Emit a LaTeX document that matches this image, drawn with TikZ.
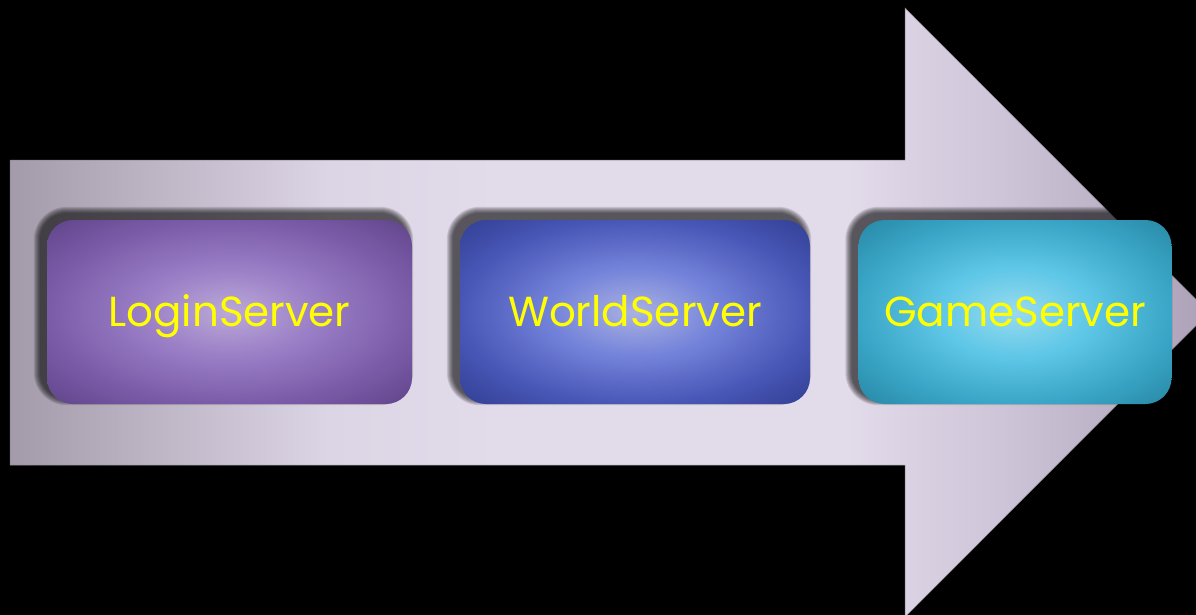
\documentclass[tikz,border=0pt]{standalone}
\usepackage{fontspec}
\newfontfamily\labelfont{Poppins}
\usetikzlibrary{backgrounds,calc}

% arrow body colours
\definecolor{arrowA}{HTML}{A39BAA}
\definecolor{arrowB}{HTML}{DCD5E5}
\definecolor{arrowC}{HTML}{E2DBEA}
\definecolor{arrowD}{HTML}{CEC5D8}
\definecolor{arrowE}{HTML}{ACA1B7}
% box colours: centre, ring, edge, corner
\definecolor{loginA}{HTML}{BBA9D8}
\definecolor{loginB}{HTML}{9A7EC6}
\definecolor{loginC}{HTML}{7A5BA8}
\definecolor{loginD}{HTML}{5E4388}
\definecolor{worldA}{HTML}{AAB1E2}
\definecolor{worldB}{HTML}{7483DA}
\definecolor{worldC}{HTML}{4856B6}
\definecolor{worldD}{HTML}{313E92}
\definecolor{gameA}{HTML}{98DBEF}
\definecolor{gameB}{HTML}{5FC7E7}
\definecolor{gameC}{HTML}{3AA5C6}
\definecolor{gameD}{HTML}{2686A3}
\definecolor{labelyellow}{HTML}{FFFF00}

\pgfdeclarehorizontalshading{arrowshade}{100bp}{color(0bp)=(arrowA); color(25bp)=(arrowA);
  color(38.3bp)=(arrowB); color(45.4bp)=(arrowC); color(60bp)=(arrowC); color(66.3bp)=(arrowD);
  color(75bp)=(arrowE); color(100bp)=(arrowE)}
\pgfdeclareradialshading{loginshade}{\pgfpoint{0bp}{0bp}}{color(0bp)=(loginA); color(12bp)=(loginB);
  color(25bp)=(loginC); color(36bp)=(loginD); color(50bp)=(loginD)}
\pgfdeclareradialshading{worldshade}{\pgfpoint{0bp}{0bp}}{color(0bp)=(worldA); color(12bp)=(worldB);
  color(25bp)=(worldC); color(36bp)=(worldD); color(50bp)=(worldD)}
\pgfdeclareradialshading{gameshade}{\pgfpoint{0bp}{0bp}}{color(0bp)=(gameA); color(12bp)=(gameB);
  color(25bp)=(gameC); color(36bp)=(gameD); color(50bp)=(gameD)}

\tikzset{
  srvbox/.style={rounded corners=26pt, inner sep=0pt, minimum height=184pt,
    text height=29.3pt, text depth=0pt,
    text=labelyellow, font=\labelfont\fontsize{42}{50}\selectfont},
  flowarrow/.style={shading=arrowshade, draw=arrowA!85!black, line width=0.5pt}
}

% soft drop shadow behind a box node, shifted up and to the left
\newcommand\softshadow[1]{%
  \foreach \k in {1,...,7}{%
    \pgfmathsetmacro\rad{26+\k}
    \fill[black, opacity=0.12, rounded corners=\rad pt]
      ($(#1.north west)+(-6-\k,-6-\k)$) rectangle ($(#1.south east)+(-6+\k,-6+\k)$);
  }}

\begin{document}
\begin{tikzpicture}[x=1pt, y=-1pt]
  \useasboundingbox (0,0) rectangle (1196,615);
  \begin{scope}[on background layer]
    \fill[black] (0,0) rectangle (1196,615);
    \clip (0,0) rectangle (1196,615);
    % the big process arrow
    \path[flowarrow] (10,160) -- (905,160) -- (905,8) -- (1209,312.5) -- (905,617)
      -- (905,465) -- (10,465) -- cycle;
  \end{scope}

  % server stages
  \node[srvbox, shading=loginshade, minimum width=365pt] (login) at (229.5,312) {LoginServer};
  \node[srvbox, shading=worldshade, minimum width=350pt] (world) at (635,312) {WorldServer};
  \node[srvbox, shading=gameshade, minimum width=313pt] (game) at (1015,312) {GameServer};

  \begin{scope}[on background layer]
    \clip (0,0) rectangle (1196,615);
    \softshadow{login}
    \softshadow{world}
    \softshadow{game}
  \end{scope}
\end{tikzpicture}
\end{document}
